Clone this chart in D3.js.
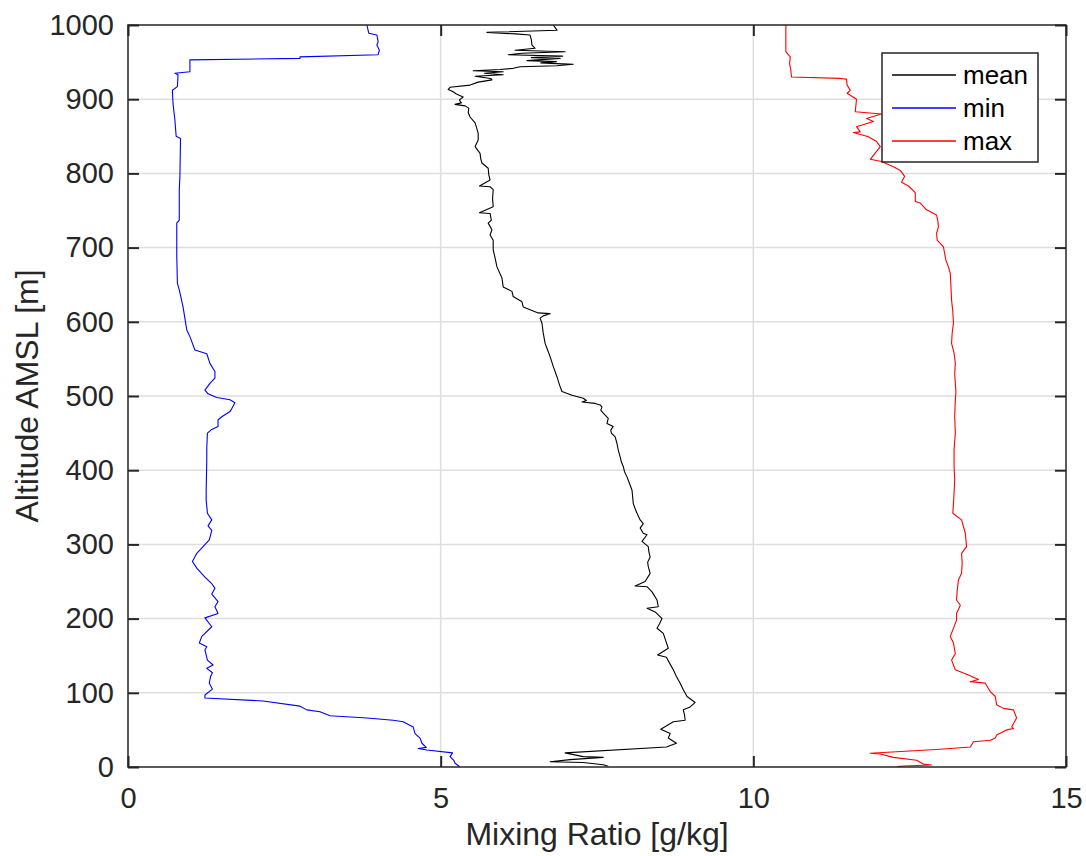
<!DOCTYPE html>
<html>
<head>
<meta charset="utf-8">
<script src="https://cdn.jsdelivr.net/npm/d3@7"></script>
<style>
  html, body { margin: 0; padding: 0; background: #fff; }
  svg { display: block; font-family: "Liberation Sans", Arial, Helvetica, sans-serif; }
</style>
</head>
<body>
<svg id="chart" width="1086" height="856"></svg>
<script>
// Mixing ratio profiles: [altitude (m), mixing ratio (g/kg)]
const meanProfile = [
  [1000,6.80],[993,6.86],[990,5.74],[988,6.20],[986.5,6.43],[980,6.45],[973,6.46],[968.6,6.51],
  [966,6.19],[964,6.99],[962,6.30],[960,6.08],[958,6.95],[956,6.45],[955,6.91],[952,6.38],
  [950.6,6.85],[949,6.60],[947,7.12],[945,6.86],[943.8,6.27],[941.6,6.16],[940,5.95],[938.4,5.52],
  [937,6.00],[935,5.70],[933,6.00],[931,5.55],[928,5.80],[926,5.82],[923,5.60],[919,5.47],
  [916,5.15],[913,5.12],[910,5.20],[907,5.25],[903,5.36],[899,5.30],[895,5.33],[893,5.23],
  [891,5.39],[888,5.45],[882,5.44],[876,5.47],[868,5.55],[860,5.58],[854,5.60],[845,5.60],
  [836,5.55],[827,5.63],[820,5.64],[814,5.66],[807,5.76],[798,5.77],[791,5.79],[783,5.62],
  [782,5.79],[778,5.84],[766,5.83],[755,5.84],[747,5.62],[746,5.79],[737,5.81],[733,5.76],
  [724,5.82],[717,5.79],[710,5.84],[697,5.84],[686,5.87],[674,5.90],[659,5.98],[647,6.00],
  [641,6.14],[634,6.16],[627,6.30],[620,6.32],[612,6.56],[611,6.75],[608,6.64],[605,6.59],
  [598,6.62],[585,6.64],[571,6.67],[562,6.71],[553,6.75],[540,6.80],[526,6.86],[515,6.90],
  [506,6.94],[501,7.10],[497,7.28],[494,7.33],[492,7.26],[490,7.47],[488,7.55],[485,7.58],
  [481,7.56],[477,7.60],[470,7.68],[463,7.66],[459,7.76],[454,7.72],[450,7.73],[445,7.79],
  [436,7.82],[427,7.84],[418,7.87],[411,7.89],[405,7.92],[398,7.94],[391,7.98],[382,8.02],
  [373,8.06],[364,8.07],[355,8.08],[348,8.11],[342,8.14],[333,8.19],[328,8.24],[322,8.19],
  [315,8.24],[313,8.30],[304,8.22],[297,8.32],[290,8.33],[283,8.35],[276,8.31],[270,8.32],
  [261,8.35],[250,8.27],[244,8.11],[243,8.30],[236,8.38],[225,8.46],[216,8.48],[214,8.30],
  [209,8.43],[200,8.54],[193,8.50],[187,8.46],[180,8.56],[170,8.60],[160,8.64],[151,8.47],
  [148,8.61],[140,8.66],[131,8.72],[122,8.77],[113,8.83],[104,8.88],[95,8.94],[87,9.07],
  [81,8.99],[77,8.88],[70,8.90],[63,8.91],[61,8.72],[51,8.52],[45,8.67],[39,8.64],
  [32,8.77],[27,8.61],[19,6.99],[14,7.28],[13,7.60],[10,7.07],[7,6.75],[6,7.28],
  [3,7.60],[1,7.68]
];

const minProfile = [
  [1000,3.82],[989,3.85],[986.5,3.98],[977.5,4.00],[973,3.98],[966,4.02],[960,4.00],[957,2.75],
  [955,2.75],[953,0.99],[937,0.99],[935,0.75],[933,0.80],[917,0.79],[912,0.71],[894,0.72],
  [872,0.75],[850,0.77],[847,0.84],[796,0.83],[778,0.82],[737,0.82],[733,0.78],[688,0.78],
  [652,0.79],[643,0.82],[620,0.88],[589,0.94],[580,0.99],[562,1.07],[557,1.26],[544,1.31],
  [533,1.39],[524,1.39],[517,1.31],[508,1.23],[503,1.28],[498,1.42],[495,1.63],[491,1.71],
  [483,1.66],[479,1.63],[472,1.50],[468,1.44],[459,1.44],[455,1.34],[450,1.27],[430,1.26],
  [414,1.26],[373,1.25],[360,1.25],[342,1.27],[333,1.34],[325,1.28],[319,1.34],[306,1.30],
  [297,1.20],[288,1.10],[277,1.03],[268,1.10],[256,1.23],[247,1.34],[241,1.39],[233,1.34],
  [223,1.44],[216,1.39],[207,1.44],[201,1.23],[189,1.34],[176,1.18],[167,1.14],[162,1.26],
  [158,1.23],[144,1.27],[137.5,1.36],[133,1.26],[127,1.35],[122,1.32],[113,1.30],[105,1.35],
  [97,1.23],[93,1.23],[89,2.16],[82,2.75],[77,2.86],[74.5,3.07],[69,3.23],[66,3.82],
  [63,4.24],[61,4.40],[54,4.56],[45,4.59],[39,4.67],[32,4.70],[26.5,4.77],[25,4.64],
  [23,4.78],[19,5.19],[14,5.15],[9,5.21],[5,5.23],[0,5.31]
];

const maxProfile = [
  [1000,10.52],[980,10.52],[964,10.52],[957,10.59],[948,10.58],[939,10.60],[930,10.61],[928,11.39],
  [927,11.49],[919,11.50],[912,11.55],[908,11.50],[900,11.65],[883,11.63],[880,12.05],[874,11.81],
  [870,11.92],[863,11.65],[856,11.71],[855,11.60],[849.5,11.84],[843,11.97],[836,12.03],[819,11.87],
  [816,12.05],[809,12.24],[804,12.35],[796,12.42],[788,12.37],[783,12.48],[774,12.59],[762,12.59],
  [760,12.67],[751,12.77],[744,12.93],[736,12.95],[728,12.96],[719,12.93],[710,12.94],[701,13.04],
  [692,13.06],[683,13.08],[674,13.12],[665,13.15],[648,13.16],[629,13.17],[614,13.19],[598,13.20],
  [585,13.18],[571,13.17],[558,13.21],[544,13.23],[530,13.22],[517,13.23],[505,13.24],[495,13.23],
  [472,13.22],[450,13.23],[428,13.21],[405,13.21],[387,13.22],[369,13.21],[355,13.20],[342,13.19],
  [333,13.33],[315,13.39],[297,13.41],[288,13.33],[275,13.34],[261,13.33],[252,13.28],[238,13.26],
  [225,13.25],[218,13.31],[207,13.25],[198,13.25],[176,13.15],[167,13.20],[153,13.23],[144,13.17],
  [131,13.23],[124,13.44],[118,13.60],[115,13.47],[113,13.71],[101.5,13.79],[95,13.87],[84,13.89],
  [79,14.00],[77,14.16],[66,14.21],[54,14.13],[52,14.16],[50,14.05],[43,13.89],[39,13.87],
  [36,13.79],[34,13.52],[27,13.47],[24,12.99],[18.5,11.87],[17.5,12.03],[13,12.24],[9,12.61],
  [4,12.72],[2.7,12.85],[1.3,12.40],[0.5,12.30]
];

const seriesNames = ["mean", "min", "max"];
const seriesColors = ["#000000", "#0000ff", "#ff0000"];
const xTicks = [0, 5, 10, 15];
const yTicks = [0, 100, 200, 300, 400, 500, 600, 700, 800, 900, 1000];
const xTitle = "Mixing Ratio [g/kg]";
const yTitle = "Altitude AMSL [m]";

const svg = d3.select("#chart");
const plot = { left: 128, top: 25, right: 1066, bottom: 767 };
const ink = "#262626";

const x = d3.scaleLinear().domain([0, 15]).range([plot.left, plot.right]);
const y = d3.scaleLinear().domain([0, 1000]).range([plot.bottom, plot.top]);

// Grid lines
const grid = svg.append("g").attr("stroke", "#dedede").attr("stroke-width", 1.5);
grid.selectAll("line.gx").data(xTicks.slice(1, -1)).join("line")
  .attr("x1", d => x(d)).attr("x2", d => x(d))
  .attr("y1", plot.top).attr("y2", plot.bottom);
grid.selectAll("line.gy").data(yTicks.slice(1, -1)).join("line")
  .attr("x1", plot.left).attr("x2", plot.right)
  .attr("y1", d => y(d)).attr("y2", d => y(d));

// Profiles
svg.append("defs").append("clipPath").attr("id", "plotClip")
  .append("rect").attr("x", plot.left).attr("y", plot.top)
  .attr("width", plot.right - plot.left).attr("height", plot.bottom - plot.top);

const line = d3.line().x(d => x(d[1])).y(d => y(d[0]));
const profiles = [meanProfile, minProfile, maxProfile];
svg.append("g").attr("clip-path", "url(#plotClip)")
  .selectAll("path").data(profiles).join("path")
  .attr("d", line)
  .attr("fill", "none")
  .attr("stroke", (d, i) => seriesColors[i])
  .attr("stroke-width", 1.1)
  .attr("stroke-linejoin", "round");

// Axes with inward ticks on all four sides
const fmt = d3.format("d");
function styleAxis(g) {
  g.select(".domain").remove();
  g.selectAll(".tick line").attr("stroke", ink).attr("stroke-width", 2);
  g.selectAll(".tick text").attr("fill", ink).style("font-size", "29px")
    .style("font-family", "'Liberation Sans', Arial, Helvetica, sans-serif");
}
svg.append("g").attr("transform", `translate(0,${plot.bottom})`)
  .call(d3.axisBottom(x).tickValues(xTicks).tickFormat(fmt).tickSizeInner(-11).tickSizeOuter(0).tickPadding(20))
  .call(styleAxis);
svg.append("g").attr("transform", `translate(0,${plot.top})`)
  .call(d3.axisTop(x).tickValues(xTicks).tickSizeInner(-11).tickSizeOuter(0).tickFormat(""))
  .call(styleAxis);
svg.append("g").attr("transform", `translate(${plot.left},0)`)
  .call(d3.axisLeft(y).tickValues(yTicks).tickFormat(fmt).tickSizeInner(-11).tickSizeOuter(0).tickPadding(14))
  .call(styleAxis);
svg.append("g").attr("transform", `translate(${plot.right},0)`)
  .call(d3.axisRight(y).tickValues(yTicks).tickSizeInner(-11).tickSizeOuter(0).tickFormat(""))
  .call(styleAxis);

// Axes box
svg.append("rect")
  .attr("x", plot.left).attr("y", plot.top)
  .attr("width", plot.right - plot.left).attr("height", plot.bottom - plot.top)
  .attr("fill", "none").attr("stroke", ink).attr("stroke-width", 1.5);

// Axis titles
svg.append("text")
  .attr("x", (plot.left + plot.right) / 2).attr("y", 845)
  .attr("text-anchor", "middle").attr("fill", ink).style("font-size", "32px")
  .text(xTitle);
svg.append("text")
  .attr("transform", `translate(38,${(plot.top + plot.bottom) / 2}) rotate(-90)`)
  .attr("text-anchor", "middle").attr("fill", ink).style("font-size", "32px")
  .text(yTitle);

// Legend
const legend = svg.append("g");
legend.append("rect")
  .attr("x", 882).attr("y", 53).attr("width", 156).attr("height", 109)
  .attr("fill", "#fff").attr("stroke", ink).attr("stroke-width", 1.5);
const rows = legend.selectAll("g.row").data(seriesNames).join("g")
  .attr("transform", (d, i) => `translate(0,${75 + i * 33})`);
rows.append("line")
  .attr("x1", 892).attr("x2", 956).attr("y1", 0).attr("y2", 0)
  .attr("stroke", (d, i) => seriesColors[i]).attr("stroke-width", 1.5);
rows.append("text")
  .attr("x", 963).attr("dy", "0.35em").attr("fill", "#000").style("font-size", "26px")
  .text(d => d);
</script>
</body>
</html>
